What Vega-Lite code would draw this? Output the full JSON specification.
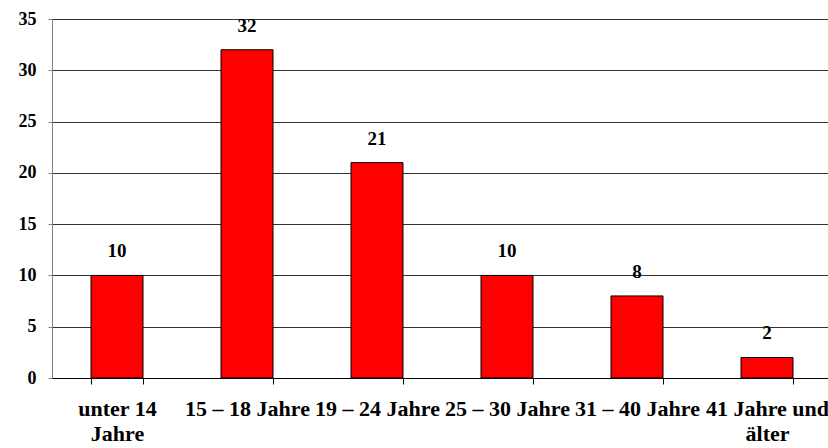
{
  "$schema": "https://vega.github.io/schema/vega-lite/v6.json",
  "autosize": {"type": "none"},
  "padding": {"left": 52, "top": 19, "right": 0, "bottom": 70},
  "width": 780,
  "height": 359,
  "background": "white",
  "config": {
    "view": {"stroke": null},
    "font": "Liberation Serif"
  },
  "data": {
    "values": [
      {"gruppe": "unter 14 Jahre", "anzahl": 10},
      {"gruppe": "15 – 18 Jahre", "anzahl": 32},
      {"gruppe": "19 – 24 Jahre", "anzahl": 21},
      {"gruppe": "25 – 30 Jahre", "anzahl": 10},
      {"gruppe": "31 – 40 Jahre", "anzahl": 8},
      {"gruppe": "41 Jahre und älter", "anzahl": 2}
    ]
  },
  "encoding": {
    "x": {
      "field": "gruppe",
      "type": "nominal",
      "sort": null,
      "scale": {"paddingInner": 0.6, "paddingOuter": 0.3},
      "axis": {
        "title": null,
        "labelAngle": 0,
        "labelFont": "Liberation Serif",
        "labelFontSize": 22,
        "labelFontWeight": "bold",
        "labelColor": "black",
        "labelPadding": 14,
        "labelLineHeight": 25,
        "labelExpr": "datum.label == 'unter 14 Jahre' ? ['unter 14', 'Jahre'] : datum.label == '41 Jahre und älter' ? ['41 Jahre und', 'älter'] : datum.label",
        "tickBand": "extent",
        "tickSize": 6,
        "tickColor": "black",
        "domainColor": "black",
        "labelOverlap": false,
        "labelLimit": 0
      }
    },
    "y": {
      "field": "anzahl",
      "type": "quantitative",
      "scale": {"domain": [0, 35], "nice": false},
      "axis": {
        "title": null,
        "values": [0, 5, 10, 15, 20, 25, 30, 35],
        "labelFont": "Liberation Serif",
        "labelFontSize": 18,
        "labelFontWeight": "bold",
        "labelColor": "black",
        "labelPadding": 12,
        "tickSize": 4,
        "tickColor": "#808080",
        "domainColor": "#808080",
        "grid": true,
        "gridColor": "#333333",
        "gridOpacity": 1
      }
    }
  },
  "layer": [
    {
      "mark": {"type": "bar", "color": "#FF0000", "stroke": "black", "strokeWidth": 1}
    },
    {
      "mark": {"type": "text", "baseline": "bottom", "dy": -14, "font": "Liberation Serif", "fontSize": 19, "fontWeight": "bold", "color": "black"},
      "encoding": {"text": {"field": "anzahl", "type": "quantitative"}}
    }
  ]
}
